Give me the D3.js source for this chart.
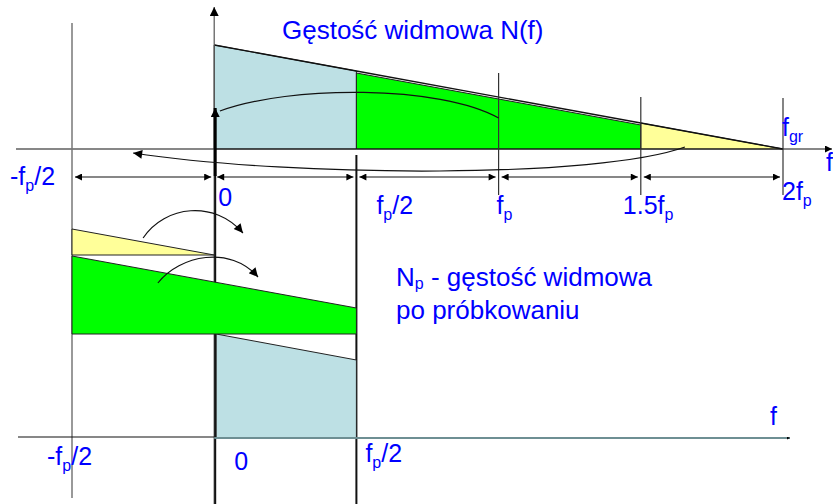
<!DOCTYPE html>
<html>
<head>
<meta charset="utf-8">
<script src="https://cdn.jsdelivr.net/npm/d3@7"></script>
<style>
body { margin: 0; background: #fff; }
text { font-family: "Liberation Sans", Arial, sans-serif; fill: #0000ff; }
</style>
</head>
<body>
<div id="chart"></div>
<script>
// frequency marks, in units of fp
var ticks = [-0.5, 0, 0.5, 1, 1.5, 2];

// spectral density N(f) before sampling (normalised to N(0) = 1)
var densityF = [0, 0.5, 1.5, 2];
var densityN = [1, 0.75, 0.25, 0];

// spectrum bands and how far each one is shifted (in fp) after sampling
var bandFrom  = [0, 0.5, 1.5];
var bandTo    = [0.5, 1.5, 2];
var bandShift = [0, -1, -2];
var bandColor = ["#bde0e4", "#00ff00", "#ffff99"];

// tick labels: main text, subscript, tail
var topLabelMain = ["-f", "0", "f", "f", "1.5f", "2f"];
var topLabelSub  = ["p", "", "p", "p", "p", "p"];
var topLabelTail = ["/2", "", "/2", "", "", ""];
var lowTicks     = [-0.5, 0, 0.5];
var lowLabelMain = ["-f", "0", "f"];
var lowLabelSub  = ["p", "", "p"];
var lowLabelTail = ["/2", "", "/2"];

var title = "Gęstość widmowa N(f)";
var noteLine1 = ["N", "p", " - gęstość widmowa"];
var noteLine2 = "po próbkowaniu";

var w = 833, h = 504;

var x = d3.scaleLinear().domain([-0.5, 2]).range([72, 783]);
var yTop = d3.scaleLinear().domain([0, 1]).range([149, 45]);
var hgt = d3.scaleLinear().domain([0, 1]).range([0, 104]);
var N = d3.scaleLinear().domain(densityF).range(densityN);

// baselines of the folded bands in the lower plot
var lowBase = [438, 334, 255];

var svg = d3.select("#chart").append("svg")
    .attr("width", w)
    .attr("height", h);

var defs = svg.append("defs");
function marker(id, mw, mh) {
    defs.append("marker")
        .attr("id", id)
        .attr("viewBox", "0 0 10 10")
        .attr("refX", 10).attr("refY", 5)
        .attr("markerWidth", mw).attr("markerHeight", mh)
        .attr("markerUnits", "userSpaceOnUse")
        .attr("orient", "auto-start-reverse")
        .append("path").attr("d", "M0,0L10,5L0,10z").attr("fill", "#000");
}
marker("head", 11, 9);
marker("dim", 9, 7);
marker("small", 10, 3);

var line = d3.line();

///////// UPPER PLOT: N(f) /////////

svg.selectAll("polygon.top")
    .data(bandFrom)
    .enter()
    .append("polygon")
    .attr("class", "top")
    .attr("points", function(d, i) {
        var dy = i == 1 ? 2 : 0;
        return [[x(d), yTop(0)], [x(d), yTop(N(d)) + dy],
                [x(bandTo[i]), yTop(N(bandTo[i])) + dy], [x(bandTo[i]), yTop(0)]].join(" ");
    })
    .attr("fill", function(d, i) { return bandColor[i]; })
    .attr("stroke", "#222")
    .attr("stroke-width", 1);

svg.append("path")
    .attr("d", line(densityF.map(function(f, i) { return [x(f), yTop(densityN[i])]; })))
    .attr("fill", "none")
    .attr("stroke", "#111")
    .attr("stroke-width", 1.3);

// upper frequency axis
svg.append("line")
    .attr("x1", 16).attr("x2", 832)
    .attr("y1", yTop(0)).attr("y2", yTop(0))
    .attr("stroke", "#111").attr("stroke-width", 1.2)
    .attr("marker-end", "url(#dim)");

// vertical N axis
svg.append("line")
    .attr("x1", x(0)).attr("x2", x(0))
    .attr("y1", h).attr("y2", 7)
    .attr("stroke", "#555").attr("stroke-width", 1.2)
    .attr("marker-end", "url(#head)");

// -fp/2 line
svg.append("line")
    .attr("x1", x(-0.5)).attr("x2", x(-0.5))
    .attr("y1", 23).attr("y2", 498)
    .attr("stroke", "#777").attr("stroke-width", 1.5);

// fp/2 line through both plots
svg.append("line")
    .attr("x1", x(0.5)).attr("x2", x(0.5))
    .attr("y1", 155).attr("y2", h)
    .attr("stroke", "#111").attr("stroke-width", 2);

// thick zero line below the upper axis
svg.append("line")
    .attr("x1", x(0) + 1).attr("x2", x(0) + 1)
    .attr("y1", 175).attr("y2", h)
    .attr("stroke", "#111").attr("stroke-width", 2);
svg.append("line")
    .attr("x1", x(0) + 1).attr("x2", x(0) + 1)
    .attr("y1", 176).attr("y2", 108)
    .attr("stroke", "#000").attr("stroke-width", 3)
    .attr("marker-end", "url(#head)");

// short marker lines at fp, 1.5fp, 2fp
var markTop = [73, 97, 98];
svg.selectAll("line.mark")
    .data([1, 1.5, 2])
    .enter()
    .append("line")
    .attr("class", "mark")
    .attr("x1", function(d) { return x(d); })
    .attr("x2", function(d) { return x(d); })
    .attr("y1", function(d, i) { return markTop[i]; })
    .attr("y2", 195)
    .attr("stroke", "#333").attr("stroke-width", 1.2);

// dimension arrows between ticks
svg.selectAll("line.dim")
    .data(ticks.slice(0, -1))
    .enter()
    .append("line")
    .attr("class", "dim")
    .attr("x1", function(d) { return x(d) + 3; })
    .attr("x2", function(d, i) { return x(ticks[i + 1]) - 3; })
    .attr("y1", 177).attr("y2", 177)
    .attr("stroke", "#111").attr("stroke-width", 1.2)
    .attr("marker-start", "url(#dim)")
    .attr("marker-end", "url(#dim)");

///////// LOWER PLOT: Np(f) /////////

svg.selectAll("polygon.low")
    .data(bandFrom)
    .enter()
    .append("polygon")
    .attr("class", "low")
    .attr("points", function(d, i) {
        var s = bandShift[i], b = lowBase[i], e = bandTo[i];
        var x0 = x(d + s) + (i == 0 ? 2 : 0);
        return [[x0, b], [x0, b - hgt(N(d))],
                [x(e + s), b - hgt(N(e))], [x(e + s), b]].join(" ");
    })
    .attr("fill", function(d, i) { return bandColor[i]; })
    .attr("stroke", "#222")
    .attr("stroke-width", 1);

// lower frequency axis
svg.append("line")
    .attr("x1", 18).attr("x2", x(0))
    .attr("y1", lowBase[0] - 1).attr("y2", lowBase[0] - 1)
    .attr("stroke", "#111").attr("stroke-width", 1.2);
svg.append("line")
    .attr("x1", x(0)).attr("x2", 790)
    .attr("y1", lowBase[0]).attr("y2", lowBase[0])
    .attr("stroke", "#6e8f93").attr("stroke-width", 2)
    .attr("marker-end", "url(#small)");

// folding arrows, control points in (f, px)
var curves = [
    { p: [[1, 118], [0.794, 85], [0.267, 85], [0.02, 111]], head: false },
    { p: [[1.655, 147], [1.357, 178], [0.302, 178], [-0.285, 153]], head: true },
    { p: [[-0.25, 238], [-0.173, 205], [0.003, 200], [0.101, 233]], head: true },
    { p: [[-0.198, 283], [-0.12, 255], [0.056, 245], [0.154, 277]], head: true }
];

svg.selectAll("path.curve")
    .data(curves)
    .enter()
    .append("path")
    .attr("class", "curve")
    .attr("d", function(d) {
        var p = d.p.map(function(q) { return [x(q[0]), q[1]]; });
        return "M" + p[0] + "C" + p[1] + " " + p[2] + " " + p[3];
    })
    .attr("fill", "none")
    .attr("stroke", "#111")
    .attr("stroke-width", 1.2)
    .attr("marker-end", function(d) { return d.head ? "url(#head)" : null; });

///////// TEXT /////////

function addLabel(px, py, main, sub, tail, size, drop) {
    var t = svg.append("text")
        .attr("x", px).attr("y", py)
        .attr("font-size", size + "px");
    t.append("tspan").text(main);
    if (sub) {
        t.append("tspan").attr("dy", drop).attr("font-size", "16px").text(sub);
        if (tail) t.append("tspan").attr("dy", -drop).text(tail);
    } else if (tail) {
        t.append("tspan").text(tail);
    }
    return t;
}

var topDx = [-62, 4, 20, -2, -18, -1];
var topY  = [185, 206, 214, 214, 214, 200];
ticks.forEach(function(f, i) {
    addLabel(x(f) + topDx[i], topY[i], topLabelMain[i], topLabelSub[i], topLabelTail[i], 25, 6);
});

var lowDx = [-25, 20, 9];
var lowY  = [465, 470, 462];
lowTicks.forEach(function(f, i) {
    addLabel(x(f) + lowDx[i], lowY[i], lowLabelMain[i], lowLabelSub[i], lowLabelTail[i], 25, 6);
});

addLabel(x(2) - 1, 136, "f", "gr", "", 25, 6);
addLabel(826, 171, "f", "", "", 25, 0);
addLabel(770, 425, "f", "", "", 25, 0);

svg.append("text")
    .attr("x", 282).attr("y", 39)
    .attr("font-size", "26px")
    .text(title);

addLabel(396, 286, noteLine1[0], noteLine1[1], noteLine1[2], 26, 3);
svg.append("text")
    .attr("x", 396).attr("y", 319)
    .attr("font-size", "26px")
    .text(noteLine2);
</script>
</body>
</html>
